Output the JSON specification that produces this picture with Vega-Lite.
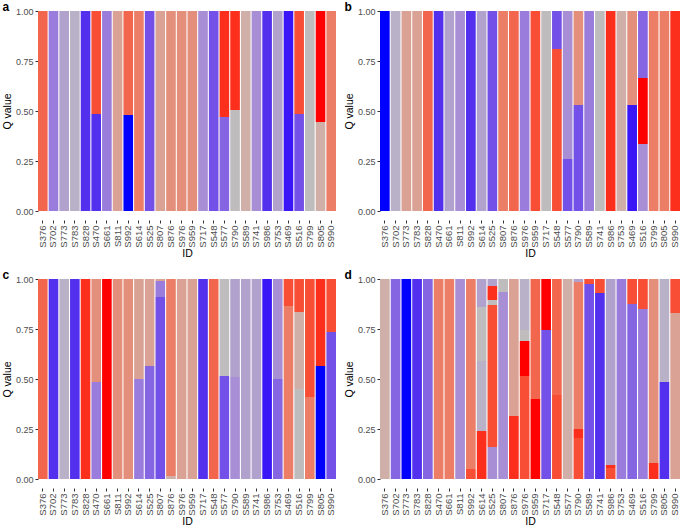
{
  "$schema": "https://vega.github.io/schema/vega-lite/v6.json",
  "padding": {"left": 2, "top": 1, "right": 2, "bottom": 1},
  "background": "white",
  "datasets": {
    "q": [
      {"p":"a","id":"S376","k":"P14","q":1,"s":1},
      {"p":"a","id":"S702","k":"P5","q":1,"s":1},
      {"p":"a","id":"S773","k":"P7","q":1,"s":1},
      {"p":"a","id":"S783","k":"P8","q":1,"s":1},
      {"p":"a","id":"S828","k":"P2","q":1,"s":1},
      {"p":"a","id":"S470","k":"P2","q":0.485,"s":1},
      {"p":"a","id":"S470","k":"P15","q":0.515,"s":2},
      {"p":"a","id":"S661","k":"P5","q":1,"s":1},
      {"p":"a","id":"S811","k":"P11","q":1,"s":1},
      {"p":"a","id":"S992","k":"P0","q":0.48,"s":1},
      {"p":"a","id":"S992","k":"P14","q":0.52,"s":2},
      {"p":"a","id":"S614","k":"P13","q":1,"s":1},
      {"p":"a","id":"S525","k":"P3","q":1,"s":1},
      {"p":"a","id":"S807","k":"P11","q":1,"s":1},
      {"p":"a","id":"S876","k":"P12","q":1,"s":1},
      {"p":"a","id":"S976","k":"P12","q":1,"s":1},
      {"p":"a","id":"S959","k":"P12","q":1,"s":1},
      {"p":"a","id":"S717","k":"P6","q":1,"s":1},
      {"p":"a","id":"S548","k":"P3","q":1,"s":1},
      {"p":"a","id":"S577","k":"P4","q":0.47,"s":1},
      {"p":"a","id":"S577","k":"P16","q":0.53,"s":2},
      {"p":"a","id":"S790","k":"P9","q":0.505,"s":1},
      {"p":"a","id":"S790","k":"P16","q":0.495,"s":2},
      {"p":"a","id":"S589","k":"P10","q":1,"s":1},
      {"p":"a","id":"S741","k":"P6","q":1,"s":1},
      {"p":"a","id":"S986","k":"P2","q":1,"s":1},
      {"p":"a","id":"S753","k":"P7","q":1,"s":1},
      {"p":"a","id":"S469","k":"P1","q":1,"s":1},
      {"p":"a","id":"S516","k":"P3","q":0.485,"s":1},
      {"p":"a","id":"S516","k":"P15","q":0.515,"s":2},
      {"p":"a","id":"S799","k":"P9","q":1,"s":1},
      {"p":"a","id":"S805","k":"P10","q":0.445,"s":1},
      {"p":"a","id":"S805","k":"P17","q":0.555,"s":2},
      {"p":"a","id":"S990","k":"P13","q":1,"s":1},

      {"p":"b","id":"S376","k":"P0","q":1,"s":1},
      {"p":"b","id":"S702","k":"P8","q":1,"s":1},
      {"p":"b","id":"S773","k":"P11","q":1,"s":1},
      {"p":"b","id":"S783","k":"P11","q":1,"s":1},
      {"p":"b","id":"S828","k":"P14","q":1,"s":1},
      {"p":"b","id":"S470","k":"P2","q":1,"s":1},
      {"p":"b","id":"S661","k":"P7","q":1,"s":1},
      {"p":"b","id":"S811","k":"P6","q":1,"s":1},
      {"p":"b","id":"S992","k":"P2","q":1,"s":1},
      {"p":"b","id":"S614","k":"P7","q":1,"s":1},
      {"p":"b","id":"S525","k":"P3","q":1,"s":1},
      {"p":"b","id":"S807","k":"P13","q":1,"s":1},
      {"p":"b","id":"S876","k":"P14","q":1,"s":1},
      {"p":"b","id":"S976","k":"P5","q":1,"s":1},
      {"p":"b","id":"S959","k":"P15","q":1,"s":1},
      {"p":"b","id":"S717","k":"P9","q":1,"s":1},
      {"p":"b","id":"S548","k":"P15","q":0.81,"s":1},
      {"p":"b","id":"S548","k":"P3","q":0.19,"s":2},
      {"p":"b","id":"S577","k":"P3","q":0.26,"s":1},
      {"p":"b","id":"S577","k":"P6","q":0.74,"s":2},
      {"p":"b","id":"S790","k":"P3","q":0.53,"s":1},
      {"p":"b","id":"S790","k":"P12","q":0.47,"s":2},
      {"p":"b","id":"S589","k":"P5","q":1,"s":1},
      {"p":"b","id":"S741","k":"P9","q":1,"s":1},
      {"p":"b","id":"S986","k":"P16","q":1,"s":1},
      {"p":"b","id":"S753","k":"P10","q":1,"s":1},
      {"p":"b","id":"S469","k":"P1","q":0.53,"s":1},
      {"p":"b","id":"S469","k":"P12","q":0.47,"s":2},
      {"p":"b","id":"S516","k":"P6","q":0.335,"s":1},
      {"p":"b","id":"S516","k":"P17","q":0.33,"s":2},
      {"p":"b","id":"S516","k":"P4","q":0.335,"s":3},
      {"p":"b","id":"S799","k":"P13","q":1,"s":1},
      {"p":"b","id":"S805","k":"P13","q":1,"s":1},
      {"p":"b","id":"S990","k":"P16","q":1,"s":1},

      {"p":"c","id":"S376","k":"P14","q":1,"s":1},
      {"p":"c","id":"S702","k":"P2","q":1,"s":1},
      {"p":"c","id":"S773","k":"P8","q":1,"s":1},
      {"p":"c","id":"S783","k":"P2","q":1,"s":1},
      {"p":"c","id":"S828","k":"P16","q":1,"s":1},
      {"p":"c","id":"S470","k":"P5","q":0.485,"s":1},
      {"p":"c","id":"S470","k":"P12","q":0.515,"s":2},
      {"p":"c","id":"S661","k":"P17","q":1,"s":1},
      {"p":"c","id":"S811","k":"P12","q":1,"s":1},
      {"p":"c","id":"S992","k":"P12","q":1,"s":1},
      {"p":"c","id":"S614","k":"P5","q":0.5,"s":1},
      {"p":"c","id":"S614","k":"P11","q":0.5,"s":2},
      {"p":"c","id":"S525","k":"P4","q":0.565,"s":1},
      {"p":"c","id":"S525","k":"P11","q":0.435,"s":2},
      {"p":"c","id":"S807","k":"P3","q":0.91,"s":1},
      {"p":"c","id":"S807","k":"P5","q":0.08,"s":2},
      {"p":"c","id":"S807","k":"P11","q":0.01,"s":3},
      {"p":"c","id":"S876","k":"P10","q":0.015,"s":1},
      {"p":"c","id":"S876","k":"P13","q":0.985,"s":2},
      {"p":"c","id":"S976","k":"P11","q":1,"s":1},
      {"p":"c","id":"S959","k":"P11","q":1,"s":1},
      {"p":"c","id":"S717","k":"P2","q":1,"s":1},
      {"p":"c","id":"S548","k":"P14","q":1,"s":1},
      {"p":"c","id":"S577","k":"P3","q":0.515,"s":1},
      {"p":"c","id":"S577","k":"P9","q":0.485,"s":2},
      {"p":"c","id":"S790","k":"P6","q":0.51,"s":1},
      {"p":"c","id":"S790","k":"P7","q":0.49,"s":2},
      {"p":"c","id":"S589","k":"P7","q":1,"s":1},
      {"p":"c","id":"S741","k":"P7","q":1,"s":1},
      {"p":"c","id":"S986","k":"P1","q":1,"s":1},
      {"p":"c","id":"S753","k":"P4","q":0.5,"s":1},
      {"p":"c","id":"S753","k":"P6","q":0.5,"s":2},
      {"p":"c","id":"S469","k":"P13","q":0.865,"s":1},
      {"p":"c","id":"S469","k":"P15","q":0.135,"s":2},
      {"p":"c","id":"S516","k":"P9","q":0.45,"s":1},
      {"p":"c","id":"S516","k":"P10","q":0.385,"s":2},
      {"p":"c","id":"S516","k":"P15","q":0.165,"s":3},
      {"p":"c","id":"S799","k":"P13","q":0.41,"s":1},
      {"p":"c","id":"S799","k":"P15","q":0.59,"s":2},
      {"p":"c","id":"S805","k":"P0","q":0.565,"s":1},
      {"p":"c","id":"S805","k":"P16","q":0.435,"s":2},
      {"p":"c","id":"S990","k":"P3","q":0.735,"s":1},
      {"p":"c","id":"S990","k":"P15","q":0.265,"s":2},

      {"p":"d","id":"S376","k":"P10","q":1,"s":1},
      {"p":"d","id":"S702","k":"P4","q":1,"s":1},
      {"p":"d","id":"S773","k":"P0","q":1,"s":1},
      {"p":"d","id":"S783","k":"P2","q":1,"s":1},
      {"p":"d","id":"S828","k":"P4","q":1,"s":1},
      {"p":"d","id":"S470","k":"P13","q":1,"s":1},
      {"p":"d","id":"S661","k":"P13","q":1,"s":1},
      {"p":"d","id":"S811","k":"P6","q":1,"s":1},
      {"p":"d","id":"S992","k":"P15","q":0.05,"s":1},
      {"p":"d","id":"S992","k":"P13","q":0.95,"s":2},
      {"p":"d","id":"S614","k":"P16","q":0.24,"s":1},
      {"p":"d","id":"S614","k":"P8","q":0.35,"s":2},
      {"p":"d","id":"S614","k":"P9","q":0.27,"s":3},
      {"p":"d","id":"S614","k":"P7","q":0.14,"s":4},
      {"p":"d","id":"S525","k":"P6","q":0.16,"s":1},
      {"p":"d","id":"S525","k":"P15","q":0.71,"s":2},
      {"p":"d","id":"S525","k":"P9","q":0.025,"s":3},
      {"p":"d","id":"S525","k":"P16","q":0.07,"s":4},
      {"p":"d","id":"S525","k":"P7","q":0.035,"s":5},
      {"p":"d","id":"S807","k":"P6","q":0.935,"s":1},
      {"p":"d","id":"S807","k":"P9","q":0.065,"s":2},
      {"p":"d","id":"S876","k":"P16","q":0.315,"s":1},
      {"p":"d","id":"S876","k":"P11","q":0.685,"s":2},
      {"p":"d","id":"S976","k":"P15","q":0.515,"s":1},
      {"p":"d","id":"S976","k":"P17","q":0.175,"s":2},
      {"p":"d","id":"S976","k":"P9","q":0.055,"s":3},
      {"p":"d","id":"S976","k":"P8","q":0.255,"s":4},
      {"p":"d","id":"S959","k":"P17","q":0.4,"s":1},
      {"p":"d","id":"S959","k":"P14","q":0.6,"s":2},
      {"p":"d","id":"S717","k":"P3","q":0.745,"s":1},
      {"p":"d","id":"S717","k":"P17","q":0.255,"s":2},
      {"p":"d","id":"S548","k":"P15","q":0.42,"s":1},
      {"p":"d","id":"S548","k":"P14","q":0.58,"s":2},
      {"p":"d","id":"S577","k":"P10","q":1,"s":1},
      {"p":"d","id":"S790","k":"P15","q":0.205,"s":1},
      {"p":"d","id":"S790","k":"P16","q":0.045,"s":2},
      {"p":"d","id":"S790","k":"P13","q":0.735,"s":3},
      {"p":"d","id":"S790","k":"P7","q":0.015,"s":4},
      {"p":"d","id":"S589","k":"P3","q":0.975,"s":1},
      {"p":"d","id":"S589","k":"P15","q":0.025,"s":2},
      {"p":"d","id":"S741","k":"P2","q":0.93,"s":1},
      {"p":"d","id":"S741","k":"P15","q":0.07,"s":2},
      {"p":"d","id":"S986","k":"P15","q":0.055,"s":1},
      {"p":"d","id":"S986","k":"P16","q":0.015,"s":2},
      {"p":"d","id":"S986","k":"P7","q":0.93,"s":3},
      {"p":"d","id":"S753","k":"P5","q":1,"s":1},
      {"p":"d","id":"S469","k":"P4","q":0.875,"s":1},
      {"p":"d","id":"S469","k":"P15","q":0.125,"s":2},
      {"p":"d","id":"S516","k":"P5","q":0.85,"s":1},
      {"p":"d","id":"S516","k":"P15","q":0.15,"s":2},
      {"p":"d","id":"S799","k":"P16","q":0.08,"s":1},
      {"p":"d","id":"S799","k":"P12","q":0.92,"s":2},
      {"p":"d","id":"S805","k":"P2","q":0.485,"s":1},
      {"p":"d","id":"S805","k":"P8","q":0.515,"s":2},
      {"p":"d","id":"S990","k":"P11","q":0.83,"s":1},
      {"p":"d","id":"S990","k":"P15","q":0.17,"s":2}
    ]
  },
  "data": {"name": "q"},
  "columns": 2,
  "spacing": {"column": 8, "row": 10},
  "concat": [
    {
      "title": {"text": "a"},
      "width": 298, "height": 200,
      "transform": [{"filter": "datum.p === 'a'"}],
      "mark": {"type": "bar"},
      "encoding": {
        "x": {"field": "id", "type": "nominal", "sort": null, "title": "ID", "scale": {"paddingInner": 0.1, "paddingOuter": 0}, "axis": {"offset": 9, "labelAngle": -90, "labelFontSize": 9.5, "titlePadding": 1}},
        "y": {"field": "q", "type": "quantitative", "aggregate": "sum", "stack": "zero", "title": "Q value", "scale": {"domain": [0, 1], "nice": false}, "axis": {"values": [0, 0.25, 0.5, 0.75, 1], "format": ".2f"}},
        "color": {"field": "k", "type": "nominal", "legend": null, "scale": {"domain": ["P0","P1","P2","P3","P4","P5","P6","P7","P8","P9","P10","P11","P12","P13","P14","P15","P16","P17"], "range": ["#0000FF","#3A16F7","#5230EE","#7350E8","#8565E2","#9A7CDC","#A78ED5","#B1A2CD","#B9B1C7","#BFBCBE","#CFAFA8","#DAA294","#E48F7C","#EC7D66","#F3664E","#F84E35","#FC2E1C","#FF0000"]}},
        "order": {"field": "s", "type": "quantitative"}
      }
    },
    {
      "title": {"text": "b"},
      "width": 300, "height": 200,
      "transform": [{"filter": "datum.p === 'b'"}],
      "mark": {"type": "bar"},
      "encoding": {
        "x": {"field": "id", "type": "nominal", "sort": null, "title": "ID", "scale": {"paddingInner": 0.1, "paddingOuter": 0}, "axis": {"offset": 9, "labelAngle": -90, "labelFontSize": 9.5, "titlePadding": 1}},
        "y": {"field": "q", "type": "quantitative", "aggregate": "sum", "stack": "zero", "title": "Q value", "scale": {"domain": [0, 1], "nice": false}, "axis": {"values": [0, 0.25, 0.5, 0.75, 1], "format": ".2f"}},
        "color": {"field": "k", "type": "nominal", "legend": null, "scale": {"domain": ["P0","P1","P2","P3","P4","P5","P6","P7","P8","P9","P10","P11","P12","P13","P14","P15","P16","P17"], "range": ["#0000FF","#3A16F7","#5230EE","#7350E8","#8565E2","#9A7CDC","#A78ED5","#B1A2CD","#B9B1C7","#BFBCBE","#CFAFA8","#DAA294","#E48F7C","#EC7D66","#F3664E","#F84E35","#FC2E1C","#FF0000"]}},
        "order": {"field": "s", "type": "quantitative"}
      }
    },
    {
      "title": {"text": "c"},
      "width": 298, "height": 200,
      "transform": [{"filter": "datum.p === 'c'"}],
      "mark": {"type": "bar"},
      "encoding": {
        "x": {"field": "id", "type": "nominal", "sort": null, "title": "ID", "scale": {"paddingInner": 0.1, "paddingOuter": 0}, "axis": {"offset": 9, "labelAngle": -90, "labelFontSize": 9.5, "titlePadding": 1}},
        "y": {"field": "q", "type": "quantitative", "aggregate": "sum", "stack": "zero", "title": "Q value", "scale": {"domain": [0, 1], "nice": false}, "axis": {"values": [0, 0.25, 0.5, 0.75, 1], "format": ".2f"}},
        "color": {"field": "k", "type": "nominal", "legend": null, "scale": {"domain": ["P0","P1","P2","P3","P4","P5","P6","P7","P8","P9","P10","P11","P12","P13","P14","P15","P16","P17"], "range": ["#0000FF","#3A16F7","#5230EE","#7350E8","#8565E2","#9A7CDC","#A78ED5","#B1A2CD","#B9B1C7","#BFBCBE","#CFAFA8","#DAA294","#E48F7C","#EC7D66","#F3664E","#F84E35","#FC2E1C","#FF0000"]}},
        "order": {"field": "s", "type": "quantitative"}
      }
    },
    {
      "title": {"text": "d"},
      "width": 300, "height": 200,
      "transform": [{"filter": "datum.p === 'd'"}],
      "mark": {"type": "bar"},
      "encoding": {
        "x": {"field": "id", "type": "nominal", "sort": null, "title": "ID", "scale": {"paddingInner": 0.1, "paddingOuter": 0}, "axis": {"offset": 9, "labelAngle": -90, "labelFontSize": 9.5, "titlePadding": 1}},
        "y": {"field": "q", "type": "quantitative", "aggregate": "sum", "stack": "zero", "title": "Q value", "scale": {"domain": [0, 1], "nice": false}, "axis": {"values": [0, 0.25, 0.5, 0.75, 1], "format": ".2f"}},
        "color": {"field": "k", "type": "nominal", "legend": null, "scale": {"domain": ["P0","P1","P2","P3","P4","P5","P6","P7","P8","P9","P10","P11","P12","P13","P14","P15","P16","P17"], "range": ["#0000FF","#3A16F7","#5230EE","#7350E8","#8565E2","#9A7CDC","#A78ED5","#B1A2CD","#B9B1C7","#BFBCBE","#CFAFA8","#DAA294","#E48F7C","#EC7D66","#F3664E","#F84E35","#FC2E1C","#FF0000"]}},
        "order": {"field": "s", "type": "quantitative"}
      }
    }
  ],
  "resolve": {"scale": {"color": "shared"}},
  "config": {
    "view": {"stroke": null},
    "axis": {
      "domain": false, "grid": false,
      "labelFont": "Liberation Sans", "labelFontSize": 9, "labelColor": "#4D4D4D",
      "tickColor": "#333333", "tickSize": 3, "labelPadding": 2,
      "titleFont": "Liberation Sans", "titleFontSize": 10.5, "titleFontWeight": "normal", "titleColor": "#000000", "titlePadding": 3
    },
    "title": {"anchor": "start", "frame": "bounds", "font": "Liberation Sans", "fontSize": 12, "fontWeight": "bold", "offset": -7, "color": "#000000"}
  }
}
